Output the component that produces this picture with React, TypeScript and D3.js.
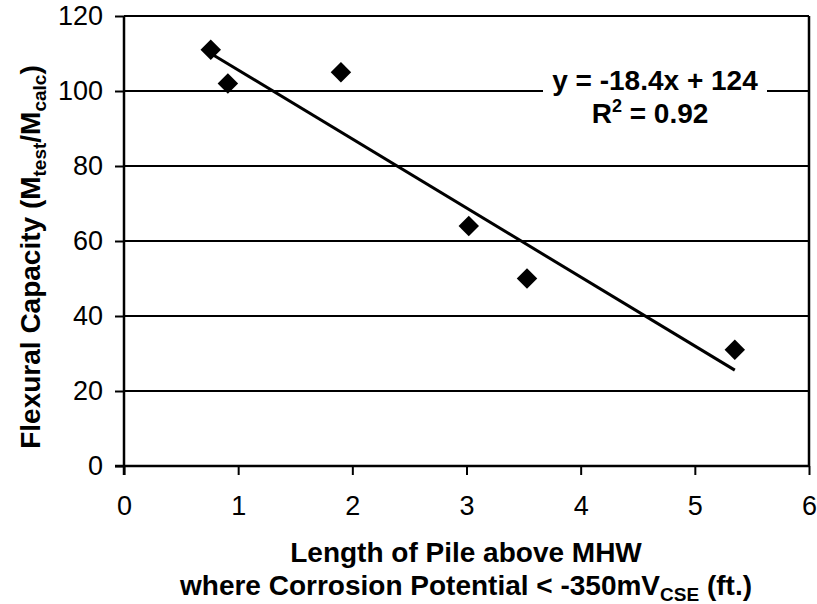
import React, { useEffect, useRef } from 'react'
import * as d3 from 'd3'

const lengthFt = [0.76, 0.91, 1.9, 3.02, 3.53, 5.35]
const capacity = [111, 102, 105, 64, 50, 31]
const xTicks = [0, 1, 2, 3, 4, 5, 6]
const yTicks = [0, 20, 40, 60, 80, 100, 120]
const slope = -18.4
const intercept = 124

const App = () => {
  const ref = useRef<SVGSVGElement>(null)

  useEffect(() => {
    const svg = d3.select(ref.current)
    svg.selectAll('*').remove()

    const left = 124, right = 809, top = 16, bottom = 466
    const x = d3.scaleLinear().domain([0, 6]).range([left, right])
    const y = d3.scaleLinear().domain([0, 120]).range([bottom, top])
    const font = 'Liberation Sans, Arial, sans-serif'

    // gridlines
    svg.append('g').selectAll('line')
      .data(yTicks.filter(d => d > 0))
      .join('line')
      .attr('x1', left).attr('x2', right)
      .attr('y1', d => y(d)).attr('y2', d => y(d))
      .attr('stroke', '#000').attr('stroke-width', 2)

    // right border
    svg.append('line')
      .attr('x1', right).attr('x2', right).attr('y1', top).attr('y2', bottom)
      .attr('stroke', '#000').attr('stroke-width', 2.5)

    // axes
    const yAxis = d3.axisLeft(y).tickValues(yTicks).tickFormat(d3.format('d')).tickSize(9).tickPadding(12)
    const yg = svg.append('g').attr('transform', `translate(${left},0)`).call(yAxis)
    const xAxis = d3.axisBottom(x).tickValues(xTicks).tickFormat(d3.format('d')).tickSize(9).tickPadding(21)
    const xg = svg.append('g').attr('transform', `translate(0,${bottom})`).call(xAxis)
    for (const g of [xg, yg]) {
      g.select('.domain').remove()
      g.selectAll('.tick line').attr('stroke-width', 2)
      g.selectAll('.tick text').attr('font-family', font).attr('font-size', 27).attr('fill', '#000')
    }
    svg.append('line').attr('x1', left - 9).attr('x2', right).attr('y1', bottom).attr('y2', bottom)
      .attr('stroke', '#000').attr('stroke-width', 2.5)
    svg.append('line').attr('x1', left).attr('x2', left).attr('y1', top).attr('y2', bottom + 9)
      .attr('stroke', '#000').attr('stroke-width', 2.5)

    // trendline
    const ext = d3.extent(lengthFt) as [number, number]
    const line = d3.line<number>().x(d => x(d)).y(d => y(slope * d + intercept))
    svg.append('path').attr('d', line(ext)).attr('stroke', '#000').attr('stroke-width', 3).attr('fill', 'none')

    // points
    const diamond = d3.symbol().type(d3.symbolSquare).size(210)
    svg.append('g').selectAll('path')
      .data(lengthFt.map((v, i) => [v, capacity[i]]))
      .join('path')
      .attr('d', diamond())
      .attr('transform', d => `translate(${x(d[0])},${y(d[1])}) rotate(45)`)
      .attr('fill', '#000')

    // equation label
    svg.append('rect').attr('x', 543).attr('y', 62).attr('width', 224).attr('height', 70).attr('fill', '#fff')
    svg.append('text').attr('font-family', font).attr('font-weight', 'bold').attr('font-size', 28)
      .attr('text-anchor', 'middle').attr('x', 655).attr('y', 90).text('y = -18.4x + 124')
    const r2 = svg.append('text').attr('font-family', font).attr('font-weight', 'bold').attr('font-size', 28)
      .attr('text-anchor', 'middle').attr('x', 650).attr('y', 123)
    r2.append('tspan').text('R')
    r2.append('tspan').attr('font-size', 18).attr('dy', -11).text('2')
    r2.append('tspan').attr('dy', 11).text(' = 0.92')

    // y title
    const yt = svg.append('text').attr('font-family', font).attr('font-weight', 'bold').attr('font-size', 28)
      .attr('text-anchor', 'middle').attr('transform', 'translate(40,257) rotate(-90)')
    yt.append('tspan').text('Flexural Capacity (M')
    yt.append('tspan').attr('font-size', 19).attr('dy', 6).text('test')
    yt.append('tspan').attr('dy', -6).text('/M')
    yt.append('tspan').attr('font-size', 19).attr('dy', 6).text('calc')
    yt.append('tspan').attr('dy', -6).text(')')

    // x title
    svg.append('text').attr('font-family', font).attr('font-weight', 'bold').attr('font-size', 28)
      .attr('text-anchor', 'middle').attr('x', 466).attr('y', 562).text('Length of Pile above MHW')
    const xt2 = svg.append('text').attr('font-family', font).attr('font-weight', 'bold').attr('font-size', 28)
      .attr('text-anchor', 'middle').attr('x', 466).attr('y', 595)
    xt2.append('tspan').text('where Corrosion Potential < -350mV')
    xt2.append('tspan').attr('font-size', 19).attr('dy', 6).text('CSE')
    xt2.append('tspan').attr('dy', -6).text(' (ft.)')
  })

  return (
    <svg ref={ref} width={817} height={604} style={{ position: 'absolute', left: 0, top: 0 }} />
  )
}

export default App
